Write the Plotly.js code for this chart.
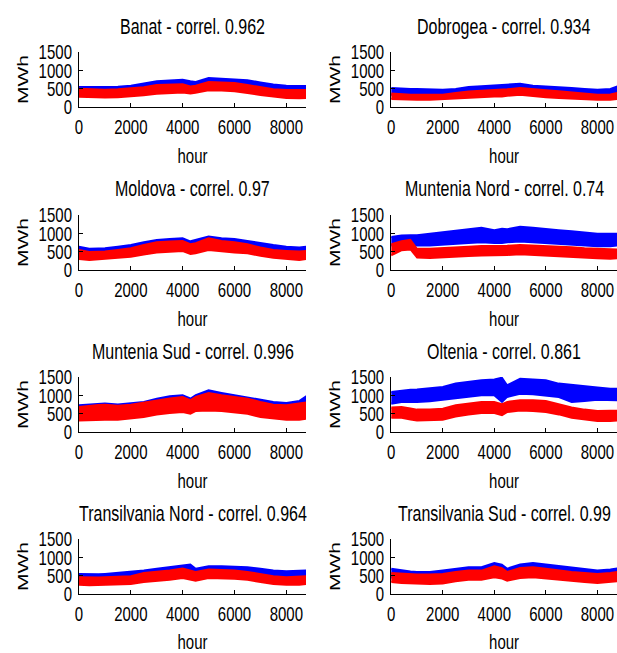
<!DOCTYPE html>
<html><head><meta charset="utf-8">
<script src="https://cdn.plot.ly/plotly-3.0.1.min.js"></script>
<style>
html,body{margin:0;padding:0;background:#fff;width:617px;height:653px;}
#chart{width:617px;height:466px;transform:scaleY(1.40129);transform-origin:0 0;}
</style>
</head><body><div id="chart"></div>
<script>
// ---- data ----
const regions = ['Banat','Dobrogea','Moldova','Muntenia Nord','Muntenia Sud','Oltenia','Transilvania Nord','Transilvania Sud'];
const correl = ['0.962','0.934','0.97','0.74','0.996','0.861','0.964','0.99'];
const hours = [0,400,750,1000,1500,2000,2500,3000,3500,4000,4300,4500,5000,5500,6000,6500,7000,7500,8000,8500,8760];
const xTicks = [0,2000,4000,6000,8000];
const yTicks = [0,500,1000,1500];

// blue series envelope (upper / lower), MWh
const blueHi = [
  [545,540,545,550,550,580,650,700,720,745,700,680,790,770,760,730,670,610,580,580,570],
  [520,490,490,490,470,470,490,545,565,580,585,590,630,580,565,545,520,490,470,490,560],
  [636,580,585,590,636,680,755,818,845,864,780,818,909,864,845,790,727,680,636,610,630],
  [900,940,945,945,990,1037,1083,1110,1150,1083,1120,1110,1175,1150,1130,1083,1055,1020,990,990,990],
  [727,755,765,773,750,773,818,909,973,1000,910,1000,1136,1064,1000,955,864,818,790,845,973],
  [1090,1136,1150,1155,1180,1227,1318,1364,1409,1427,1480,1273,1450,1427,1409,1318,1273,1227,1210,1180,1180],
  [545,527,535,545,573,600,636,690,727,755,800,690,755,755,755,727,690,636,618,636,636],
  [690,636,610,600,600,636,690,727,727,845,800,690,800,845,800,755,709,664,636,664,690]
];
const blueLo = [
  [400,390,380,380,390,400,440,490,510,520,480,480,560,550,540,510,460,420,390,380,380],
  [330,310,300,300,300,300,320,370,390,400,400,410,440,400,390,370,340,310,290,300,340],
  [420,380,390,400,430,470,540,600,620,640,570,600,680,640,620,570,500,450,420,400,410],
  [667,700,690,667,667,685,713,740,760,740,740,760,778,760,740,713,690,667,648,648,667],
  [450,470,480,490,480,490,540,620,670,700,640,720,800,760,720,680,580,520,490,500,560],
  [773,818,818,818,840,864,909,955,1000,1000,818,955,1045,1030,1000,955,818,850,882,864,864],
  [360,340,345,350,370,390,430,470,500,530,520,470,520,520,510,490,450,400,380,380,380],
  [450,420,400,390,390,410,450,480,480,560,530,450,520,540,520,490,460,430,410,420,440]
];
// red series envelope (upper / lower), MWh
const redHi = [
  [500,480,470,470,480,500,540,600,620,620,560,580,680,660,650,600,540,480,460,460,460],
  [365,340,335,335,335,335,380,425,440,455,460,480,520,480,455,430,400,370,335,340,380],
  [545,490,495,500,545,590,680,755,773,790,700,727,864,790,755,700,610,545,520,500,520],
  [700,780,820,580,580,590,610,630,650,650,660,660,680,670,660,640,620,590,570,560,560],
  [680,720,735,745,715,745,790,864,909,955,864,955,1064,1000,955,909,818,745,727,770,800],
  [664,682,640,609,609,636,727,773,818,818,755,818,864,864,845,755,664,609,573,580,580],
  [455,440,450,455,482,482,573,600,636,690,640,600,664,664,636,600,527,482,455,482,482],
  [573,545,530,527,527,545,600,636,636,755,700,600,709,727,690,636,600,573,545,573,600]
];
const redLo = [
  [280,270,265,260,270,290,320,360,390,400,370,390,460,450,430,380,330,280,250,240,250],
  [220,205,200,200,200,200,220,245,270,290,290,310,335,300,270,245,220,210,200,200,220],
  [300,275,285,300,336,364,427,480,500,518,440,455,545,518,480,455,390,336,300,273,300],
  [400,540,560,340,330,340,360,380,400,400,410,410,430,420,410,390,370,340,320,310,320],
  [318,336,336,336,336,364,409,482,518,545,500,573,590,573,545,500,409,364,336,336,364],
  [390,390,340,318,318,336,427,482,518,518,460,545,590,573,545,482,390,336,300,300,318],
  [255,236,245,255,255,273,327,364,390,436,390,364,436,436,418,390,327,273,255,255,273],
  [327,300,285,273,273,285,345,390,390,455,420,364,436,455,436,390,364,327,300,327,345]
];

// ---- layout ----
const FONT = 'Liberation Sans, Arial, sans-serif';
const colDom = [[0.128,0.496],[0.634,1.0]];
const rowDom = [[0.8361,0.9204],[0.5865,0.6708],[0.3384,0.4227],[0.0904,0.1746]];

const traces = [];
const layout = {
  width:617, height:466, margin:{l:0,r:0,t:0,b:0},
  paper_bgcolor:'#fff', plot_bgcolor:'#fff', showlegend:false,
  font:{family:FONT, color:'#000', size:15},
  annotations:[]
};

function band(x, hi, lo){
  return {x: x.concat(x.slice().reverse()), y: hi.concat(lo.slice().reverse())};
}

for (let i=0;i<regions.length;i++){
  const r = Math.floor(i/2), c = i%2;
  const sfx = i===0 ? '' : String(i+1);
  const xa = 'x'+sfx, ya = 'y'+sfx;
  const b = band(hours, blueHi[i], blueLo[i]);
  const rd = band(hours, redHi[i], redLo[i]);
  traces.push({type:'scatter', mode:'lines', x:b.x, y:b.y, xaxis:xa, yaxis:ya,
    fill:'toself', fillcolor:'rgb(0,0,255)', line:{color:'rgb(0,0,255)', width:1.5}, hoverinfo:'skip'});
  traces.push({type:'scatter', mode:'lines', x:rd.x, y:rd.y, xaxis:xa, yaxis:ya,
    fill:'toself', fillcolor:'rgb(255,0,0)', line:{color:'rgb(255,0,0)', width:1.5}, hoverinfo:'skip'});

  layout['xaxis'+sfx] = {
    domain: colDom[c], anchor: ya, range:[0,8760],
    tickmode:'array', tickvals:xTicks, ticktext:xTicks.map(String),
    ticks:'inside', ticklen:3, tickwidth:1, tickcolor:'#000',
    showline:true, linecolor:'#000', linewidth:1, mirror:false,
    showgrid:false, zeroline:false, automargin:false, fixedrange:true,
    tickfont:{family:FONT, size:15, color:'#000'},
    title:{text:'hour', font:{family:FONT, size:15, color:'#000'}, standoff:8}
  };
  layout['yaxis'+sfx] = {
    domain: rowDom[r], anchor: xa, range:[0,1500],
    tickmode:'array', tickvals:yTicks, ticktext:yTicks.map(String),
    ticks:'inside', ticklen:4, tickwidth:1, tickcolor:'#000',
    showline:true, linecolor:'#000', linewidth:1, mirror:false,
    showgrid:false, zeroline:false, automargin:false, fixedrange:true,
    ticklabelstandoff:3,
    tickfont:{family:FONT, size:15, color:'#000'},
    title:{text:'MWh', font:{family:FONT, size:15, color:'#000'}, standoff:6}
  };
  layout.annotations.push({
    text: regions[i] + ' - correl. ' + correl[i],
    xref:'paper', yref:'paper', x:(colDom[c][0]+colDom[c][1])/2, y:rowDom[r][1],
    xanchor:'center', yanchor:'bottom', yshift:8, showarrow:false,
    font:{family:FONT, size:16, color:'#000'}
  });
}

Plotly.newPlot('chart', traces, layout, {staticPlot:true, displayModeBar:false});
</script></body></html>
